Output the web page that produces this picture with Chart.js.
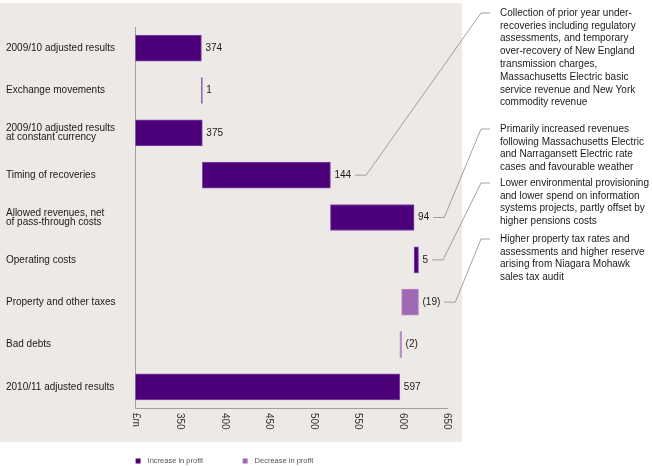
<!DOCTYPE html>
<html>
<head>
<meta charset="utf-8">
<script src="https://cdn.jsdelivr.net/npm/chart.js@4.4.1/dist/chart.umd.min.js"></script>
<style>
  html, body { margin: 0; padding: 0; background: #fff; }
  #wrap { width: 652px; height: 466px; }
</style>
</head>
<body>
<div id="wrap"><canvas id="profitChart"></canvas></div>
<script>
var categories = [
  '2009/10 adjusted results',
  'Exchange movements',
  ['2009/10 adjusted results', 'at constant currency'],
  'Timing of recoveries',
  ['Allowed revenues, net', 'of pass-through costs'],
  'Operating costs',
  'Property and other taxes',
  'Bad debts',
  '2010/11 adjusted results'
];
// floating bars [start, end] in £m
var increaseValues = [374, [374, 375], 375, [375, 519], [519, 613], [613, 618], null, null, 597];
var decreaseValues = [null, null, null, null, null, null, [599, 618], [597, 599], null];
var valueLabels = ['374', '1', '375', '144', '94', '5', '(19)', '(2)', '597'];
var tickValues = [300, 350, 400, 450, 500, 550, 600, 650];
var tickLabels = ['£m', '350', '400', '450', '500', '550', '600', '650'];
var notes = [
  { row: 3, top: 13, lines: ['Collection of prior year under-', 'recoveries including regulatory', 'assessments, and temporary', 'over-recovery of New England', 'transmission charges,', 'Massachusetts Electric basic', 'service revenue and New York', 'commodity revenue'] },
  { row: 4, top: 129, lines: ['Primarily increased revenues', 'following Massachusetts Electric', 'and Narragansett Electric rate', 'cases and favourable weather'] },
  { row: 5, top: 183, lines: ['Lower environmental provisioning', 'and lower spend on information', 'systems projects, partly offset by', 'higher pensions costs'] },
  { row: 6, top: 239, lines: ['Higher property tax rates and', 'assessments and higher reserve', 'arising from Niagara Mohawk', 'sales tax audit'] }
];

var FONT = '"Liberation Sans", Arial, Helvetica, sans-serif';
var INC = '#4b007a';
var DEC = '#9e6ab5';

var decorPlugin = {
  id: 'decor',
  beforeDraw: function(chart) {
    var ctx = chart.ctx;
    ctx.save();
    ctx.fillStyle = '#ffffff';
    ctx.fillRect(0, 0, chart.width, chart.height);
    ctx.fillStyle = '#ede9e6';
    ctx.fillRect(0, 3, 462, 439);
    ctx.restore();
  },
  afterDraw: function(chart) {
    var ctx = chart.ctx;
    var xs = chart.scales.x;
    ctx.save();

    // x tick labels, rotated clockwise
    ctx.fillStyle = '#333';
    ctx.font = '10px ' + FONT;
    ctx.textAlign = 'left';
    ctx.textBaseline = 'middle';
    tickValues.forEach(function(v, i) {
      ctx.save();
      ctx.translate(xs.getPixelForValue(v), 413);
      ctx.rotate(Math.PI / 2);
      ctx.fillText(tickLabels[i], 0, 0);
      ctx.restore();
    });

    // value labels at bar ends
    var labelEnds = [];
    var m0 = chart.getDatasetMeta(0), m1 = chart.getDatasetMeta(1);
    ctx.fillStyle = '#1a1a1a';
    ctx.font = '10px ' + FONT;
    valueLabels.forEach(function(txt, i) {
      var el = increaseValues[i] !== null ? m0.data[i] : m1.data[i];
      var right = Math.max(el.x, el.base);
      var x = right + 4;
      ctx.fillText(txt, x, el.y);
      labelEnds[i] = { x: x + ctx.measureText(txt).width, y: el.y };
    });

    // leader lines and notes
    ctx.strokeStyle = '#8a8a8a';
    ctx.lineWidth = 0.8;
    notes.forEach(function(n) {
      var p = labelEnds[n.row];
      var sx = p.x + 4;
      ctx.beginPath();
      ctx.moveTo(sx, p.y);
      ctx.lineTo(sx + 11, p.y);
      ctx.lineTo(481, n.top);
      ctx.lineTo(490, n.top);
      ctx.stroke();
      ctx.fillStyle = '#1a1a1a';
      n.lines.forEach(function(line, k) {
        ctx.fillText(line, 500, n.top + k * 12.8);
      });
    });

    // legend
    ctx.font = '7.5px ' + FONT;
    ctx.fillStyle = '#555';
    var lx = chart.chartArea.left;
    chart.data.datasets.forEach(function(ds, i) {
      var bx = lx + i * 107;
      ctx.fillStyle = ds.backgroundColor;
      ctx.fillRect(bx, 458.5, 5, 5);
      ctx.fillStyle = '#555';
      ctx.fillText(ds.label, bx + 12, 461);
    });
    ctx.restore();
  }
};

var ctx = document.getElementById('profitChart').getContext('2d');
var profitChart = new Chart(ctx, {
  type: 'bar',
  data: {
    labels: categories,
    datasets: [
      {
        label: 'Increase in profit',
        data: increaseValues,
        backgroundColor: INC,
        borderColor: '#7f4aa6',
        borderWidth: 1,
        borderSkipped: false,
        grouped: false,
        barThickness: 26
      },
      {
        label: 'Decrease in profit',
        data: decreaseValues,
        backgroundColor: DEC,
        borderColor: '#b48ac6',
        borderWidth: 1,
        borderSkipped: false,
        grouped: false,
        barThickness: 26
      }
    ]
  },
  options: {
    indexAxis: 'y',
    responsive: true,
    maintainAspectRatio: false,
    animation: false,
    layout: { padding: { top: 27, right: 205, bottom: 0, left: 6 } },
    plugins: {
      legend: { display: false },
      tooltip: { enabled: false }
    },
    scales: {
      x: {
        min: 300,
        max: 650,
        ticks: { display: false, stepSize: 50 },
        grid: { display: false },
        border: { display: true, color: '#a0a0a0', width: 1 },
        afterFit: function(scale) { scale.height = 58; }
      },
      y: {
        ticks: {
          crossAlign: 'far',
          autoSkip: false,
          color: '#1a1a1a',
          font: { family: FONT, size: 10, lineHeight: 0.95 }
        },
        grid: { display: false },
        border: { display: true, color: '#a0a0a0', width: 1 },
        afterFit: function(scale) { scale.width = 129.6; }
      }
    }
  },
  plugins: [decorPlugin]
});
</script>
</body>
</html>
